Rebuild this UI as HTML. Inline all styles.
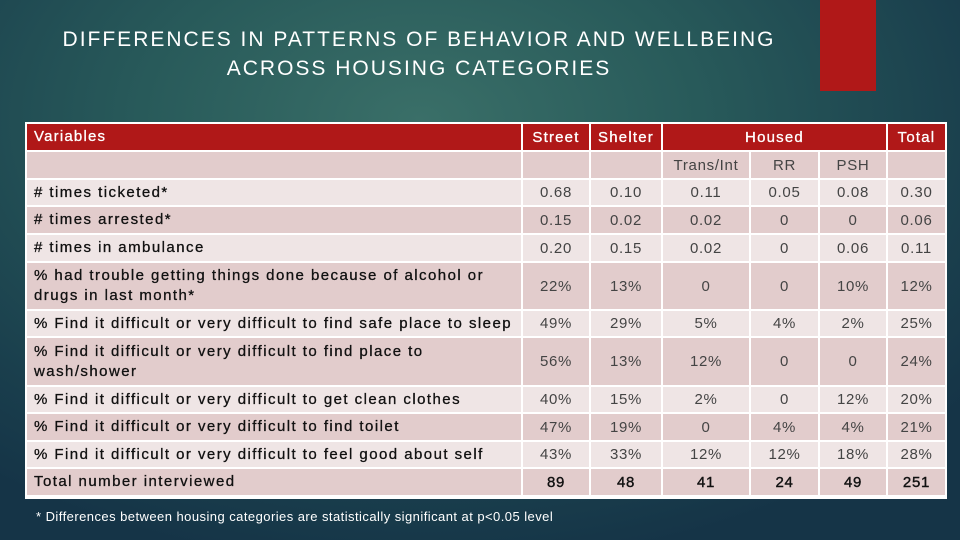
<!DOCTYPE html>
<html><head><meta charset="utf-8"><style>
body{margin:0;width:960px;height:540px;overflow:hidden;font-family:"Liberation Sans",sans-serif;
background:radial-gradient(ellipse 700px 450px at 420px 120px,#3a6f68 0%,#285a5a 40%,#1a3f4d 80%,#153447 100%);position:relative}
.red{position:absolute;left:820px;top:0;width:56px;height:91px;background:#b01818}
.title{position:absolute;left:0;width:838px;top:25px;text-align:center;color:#fff;font-size:21px;letter-spacing:2px;line-height:29px}
.c{position:absolute;box-sizing:border-box;display:flex;align-items:center;justify-content:center;font-size:15px;color:#444;letter-spacing:0.7px}
.l{justify-content:flex-start;padding-left:7px;color:#111;-webkit-text-stroke:0.3px #111;line-height:20px;letter-spacing:1.45px;white-space:pre-line}
.h{background:#b01818;color:#fff;-webkit-text-stroke:0.3px #fff;letter-spacing:1.2px}
.tot{color:#111;-webkit-text-stroke:0.4px #111}
.a{background:#efe5e5}.b{background:#e2cccc}
.tab{position:absolute;left:25px;top:122px;width:922px;height:377px;background:#fff}
.foot{position:absolute;left:36px;top:509px;color:#fff;font-size:13px;letter-spacing:0.45px}
</style></head><body>
<div class="red"></div>
<div class="title">DIFFERENCES IN PATTERNS OF BEHAVIOR AND WELLBEING<br>ACROSS HOUSING CATEGORIES</div>
<div class="tab"></div>
<div id="t"></div>
<div class="foot">* Differences between housing categories are statistically significant at p&lt;0.05 level</div>
<script>
const labels=["# times ticketed*","# times arrested*","# times in ambulance","% had trouble getting things done because of alcohol or\ndrugs in last month*","% Find it difficult or very difficult to find safe place to sleep","% Find it difficult or very difficult to find place to\nwash/shower","% Find it difficult or very difficult to get clean clothes","% Find it difficult or very difficult to find toilet","% Find it difficult or very difficult to feel good about self","Total number interviewed"];
const street=["0.68","0.15","0.20","22%","49%","56%","40%","47%","43%","89"];
const shelter=["0.10","0.02","0.15","13%","29%","13%","15%","19%","33%","48"];
const trans=["0.11","0.02","0.02","0","5%","12%","2%","0","12%","41"];
const rr=["0.05","0","0","0","4%","0","0","4%","12%","24"];
const psh=["0.08","0","0.06","10%","2%","0","12%","4%","18%","49"];
const total=["0.30","0.06","0.11","12%","25%","24%","20%","21%","28%","251"];
const xs=[27,523,591,663,751,820,888,945];
const ys=[124,152,180,207,235,263,311,338,387,414,442,469,497];
const t=document.getElementById('t');
function cell(x0,x1,y0,y1,cls,txt,name){const d=document.createElement('div');d.className='c '+cls;
d.style.left=x0+'px';d.style.top=y0+'px';d.style.width=(x1-x0-2)+'px';d.style.height=(y1-y0-2)+'px';d.textContent=txt;


t.appendChild(d);return d;}
cell(xs[0],xs[1],ys[0],ys[1],'h l','Variables','header-variables');
cell(xs[1],xs[2],ys[0],ys[1],'h','Street','header-street');
cell(xs[2],xs[3],ys[0],ys[1],'h','Shelter','header-shelter');
cell(xs[3],xs[6],ys[0],ys[1],'h','Housed','header-housed');
cell(xs[6],xs[7]+2,ys[0],ys[1],'h','Total','header-total');
const sub=['','','','Trans/Int','RR','PSH',''];
for(let i=0;i<7;i++)cell(xs[i],xs[i+1]+(i==6?2:0),ys[1],ys[2],'b',sub[i],'subheader-'+i);
const cols=[street,shelter,trans,rr,psh,total];
labels.forEach((lab,r)=>{const cls=r%2==0?'a':'b';const y0=ys[r+2],y1=ys[r+3];
const last=r==labels.length-1;
const lc=cell(xs[0],xs[1],y0,y1,cls+' l',lab,'row-label-'+r);
if(last){lc.style.alignItems='flex-start';lc.style.paddingTop='3px';}
cols.forEach((c,j)=>{
cell(xs[j+1],xs[j+2]+(j==5?2:0),y0,y1,cls+(last?' tot':''),c[r],'cell-'+r+'-'+j);});
});
</script>
</body></html>
